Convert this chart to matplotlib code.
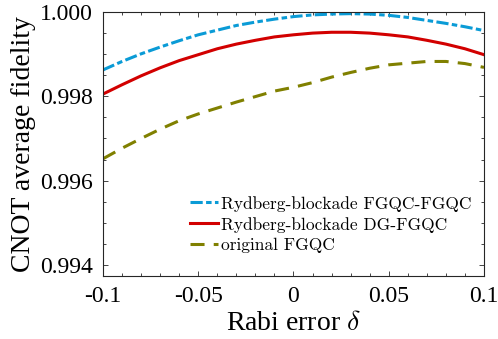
import matplotlib
matplotlib.use("Agg")
import matplotlib.pyplot as plt
import numpy as np
from matplotlib.ticker import MultipleLocator

# Dati
delta = [-0.10, -0.09, -0.08, -0.07, -0.06, -0.05, -0.04, -0.03, -0.02, -0.01, 0.00,
         0.01, 0.02, 0.03, 0.04, 0.05, 0.06, 0.07, 0.08, 0.09, 0.10]

fid_fgqc_fgqc = [0.99862, 0.99882, 0.99900, 0.99916, 0.99931, 0.99945, 0.99956,
                 0.99967, 0.99975, 0.99982, 0.99988, 0.99992, 0.99994, 0.99995,
                 0.99994, 0.99991, 0.99986, 0.99979, 0.99972, 0.99964, 0.99955]

fid_dg_fgqc = [0.99805, 0.99827, 0.99848, 0.99867, 0.99884, 0.99898, 0.99912,
               0.99923, 0.99932, 0.99940, 0.99945, 0.99949, 0.99951, 0.99951,
               0.99949, 0.99945, 0.99940, 0.99932, 0.99923, 0.99912, 0.99898]

fid_original = [0.99652, 0.99677, 0.99700, 0.99722, 0.99742, 0.99758, 0.99772,
                0.99786, 0.99799, 0.99812, 0.99821, 0.99832, 0.99845, 0.99856,
                0.99866, 0.99874, 0.99878, 0.99882, 0.99882, 0.99877, 0.99868]

labels = ["Rydberg-blockade FGQC-FGQC", "Rydberg-blockade DG-FGQC", "original FGQC"]
xticks = [-0.1, -0.05, 0, 0.05, 0.1]
xticklabels = ["-0.1", "-0.05", "0", "0.05", "0.1"]
yticks = [0.994, 0.996, 0.998, 1.000]
yticklabels = ["0.994", "0.996", "0.998", "1.000"]

plt.rcParams["mathtext.fontset"] = "cm"
serif = "Liberation Serif"

fig = plt.figure(figsize=(4.98, 3.39), dpi=100)
ax = fig.add_axes([0.2068, 0.1858, 0.7651, 0.7802])

ax.plot(delta, fid_fgqc_fgqc, color="#0a9bd6", lw=2.2,
        linestyle=(0, (4.0, 1.1, 1.8, 1.1)), label=labels[0])
ax.plot(delta, fid_dg_fgqc, color="#d20000", lw=2.2, linestyle="-", label=labels[1])
ax.plot(delta, fid_original, color="#808000", lw=2.2,
        linestyle=(0, (4.6, 3.0)), label=labels[2])

ax.set_xlim(-0.1, 0.1)
ax.set_ylim(0.99375, 1.0)
ax.set_xticks(xticks)
ax.set_xticklabels(xticklabels, family=serif, fontsize=17)
ax.set_yticks(yticks)
ax.set_yticklabels(yticklabels, family=serif, fontsize=17)
ax.xaxis.set_minor_locator(MultipleLocator(0.01))
ax.yaxis.set_minor_locator(MultipleLocator(0.0005))
ax.tick_params(which="both", direction="in", top=True, right=True,
               color="#262626", width=0.6)
ax.tick_params(which="major", length=3.5, pad=7)
ax.tick_params(which="minor", length=2.5)
for s in ax.spines.values():
    s.set_color("#262626")
    s.set_linewidth(0.8)

ax.set_xlabel(r"Rabi error $\delta$", family=serif, fontsize=20, labelpad=3)
ax.set_ylabel("CNOT average fidelity", family=serif, fontsize=20, labelpad=3)

ax.legend(loc="upper left", bbox_to_anchor=(0.21, 0.33), frameon=False,
          prop={"family": "cmr10", "size": 12.5}, handlelength=1.6,
          handletextpad=0.2, labelspacing=0.3, borderaxespad=0)

fig.savefig("out.png", dpi=100)
